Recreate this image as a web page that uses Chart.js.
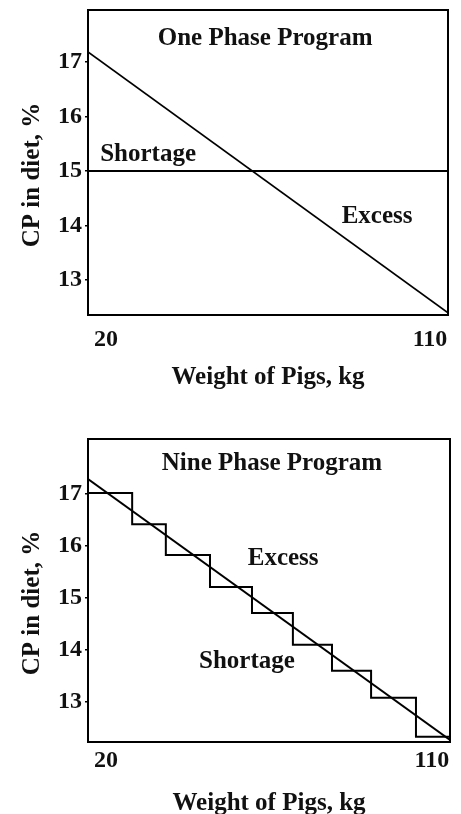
<!DOCTYPE html>
<html lang="en">
<head>
<meta charset="utf-8">
<title>CP in diet vs weight of pigs</title>
<script src="https://cdn.jsdelivr.net/npm/chart.js"></script>
<style>
  html, body { margin: 0; padding: 0; background: #fff; }
  .painel { position: absolute; left: 0; width: 461px; }
</style>
</head>
<body>

<div class="painel" style="top:0;height:400px"><canvas id="umaFase" width="461" height="400"></canvas></div>
<div class="painel" style="top:400px;height:414px"><canvas id="noveFases" width="461" height="414"></canvas></div>

<script>
// eixos
const pesoLimites = [15, 115];
const pesoTicks = [20, 110];
const cpTicks = [13, 14, 15, 16, 17];

// one phase program
const umaFasePeso = [15, 115];
const umaFaseRequerido = [17.18, 12.4];
const umaFaseDieta = [15, 15];
const umaFaseCp = [12.36, 17.95];
const umaFaseTextos = ['One Phase Program', 'Shortage', 'Excess'];
const umaFaseTextoPeso = [64.2, 31.7, 95.3];
const umaFaseTextoCp = [17.42, 15.3, 14.16];

// nine phase program
const noveFasesPeso = [15, 115];
const noveFasesRequerido = [17.29, 12.27];
const noveFasesInicio = [15, 27.2, 36.5, 48.7, 60.3, 71.6, 82.4, 93.2, 105.6, 115];
const noveFasesDieta = [17.02, 16.42, 15.83, 15.21, 14.71, 14.10, 13.60, 13.08, 12.33, 12.33];
const noveFasesCp = [12.23, 18.06];
const noveFasesTextos = ['Nine Phase Program', 'Excess', 'Shortage'];
const noveFasesTextoPeso = [65.8, 68.9, 58.9];
const noveFasesTextoCp = [17.58, 15.76, 13.78];

const fonte = '"Liberation Serif", "DejaVu Serif", serif';

function pontos(xs, ys) {
    return xs.map((x, i) => ({ x: x, y: ys[i] }));
}

function criarGrafico(id, g) {
    const ctx = document.getElementById(id).getContext('2d');

    // moldura do grafico e textos dentro da area
    const moldura = {
        id: 'moldura',
        afterDatasetsDraw(chart) {
            const { ctx, chartArea: a, scales: { x, y } } = chart;
            ctx.save();
            ctx.strokeStyle = '#000';
            ctx.lineWidth = 2;
            ctx.strokeRect(a.left, a.top, a.right - a.left, a.bottom - a.top);
            ctx.font = 'bold 25px ' + fonte;
            ctx.fillStyle = '#111';
            ctx.textAlign = 'center';
            ctx.textBaseline = 'middle';
            g.textos.forEach((t, i) => {
                ctx.fillText(t, x.getPixelForValue(g.textoPeso[i]), y.getPixelForValue(g.textoCp[i]));
            });
            ctx.restore();
        }
    };

    return new Chart(ctx, {
        type: 'line',
        data: { datasets: g.datasets },
        options: {
            responsive: false,
            animation: false,
            layout: { padding: g.padding },
            elements: { point: { radius: 0 } },
            plugins: { legend: { display: false }, tooltip: { enabled: false } },
            scales: {
                x: {
                    type: 'linear',
                    min: pesoLimites[0],
                    max: pesoLimites[1],
                    afterBuildTicks: s => { s.ticks = pesoTicks.map(v => ({ value: v })); },
                    afterFit: s => { s.height = g.alturaX; s.paddingLeft = 0; s.paddingRight = 0; },
                    border: { display: false },
                    grid: { display: false, drawTicks: false },
                    ticks: {
                        color: '#111',
                        padding: g.paddingTickX,
                        maxRotation: 0,
                        font: { family: fonte, size: 24, weight: 'bold' }
                    },
                    title: {
                        display: true,
                        text: 'Weight of Pigs, kg',
                        color: '#111',
                        padding: { top: 0, bottom: g.paddingTituloX },
                        font: { family: fonte, size: 25, weight: 'bold', lineHeight: 1 }
                    }
                },
                y: {
                    type: 'linear',
                    min: g.cp[0],
                    max: g.cp[1],
                    afterBuildTicks: s => { s.ticks = cpTicks.map(v => ({ value: v })); },
                    afterFit: s => { s.width = 88; s.paddingTop = 0; s.paddingBottom = 0; },
                    border: { display: false },
                    grid: { drawOnChartArea: false, drawTicks: true, tickLength: 3, color: '#000', lineWidth: 1.5 },
                    ticks: {
                        color: '#111',
                        padding: 3,
                        font: { family: fonte, size: 24, weight: 'bold' }
                    },
                    title: {
                        display: true,
                        // espacos no fim descem o texto, como no original
                        text: 'CP in diet, %    ',
                        color: '#111',
                        padding: { top: 20, bottom: 0 },
                        font: { family: fonte, size: 25, weight: 'bold', lineHeight: 1 }
                    }
                }
            }
        },
        plugins: [moldura]
    });
}

criarGrafico('umaFase', {
    cp: umaFaseCp,
    padding: { top: 10, right: 13, left: 0, bottom: 0 },
    alturaX: 85,
    paddingTickX: 10,
    paddingTituloX: 10,
    textos: umaFaseTextos,
    textoPeso: umaFaseTextoPeso,
    textoCp: umaFaseTextoCp,
    datasets: [
        { data: pontos(umaFasePeso, umaFaseRequerido), borderColor: '#000', borderWidth: 1.6 },
        { data: pontos(umaFasePeso, umaFaseDieta), borderColor: '#000', borderWidth: 2 }
    ]
});

criarGrafico('noveFases', {
    cp: noveFasesCp,
    padding: { top: 39, right: 11, left: 0, bottom: 0 },
    alturaX: 72,
    paddingTickX: 4,
    paddingTituloX: -2,
    textos: noveFasesTextos,
    textoPeso: noveFasesTextoPeso,
    textoCp: noveFasesTextoCp,
    datasets: [
        { data: pontos(noveFasesPeso, noveFasesRequerido), borderColor: '#000', borderWidth: 2 },
        { data: pontos(noveFasesInicio, noveFasesDieta), borderColor: '#000', borderWidth: 2, stepped: 'before' }
    ]
});
</script>
</body>
</html>
